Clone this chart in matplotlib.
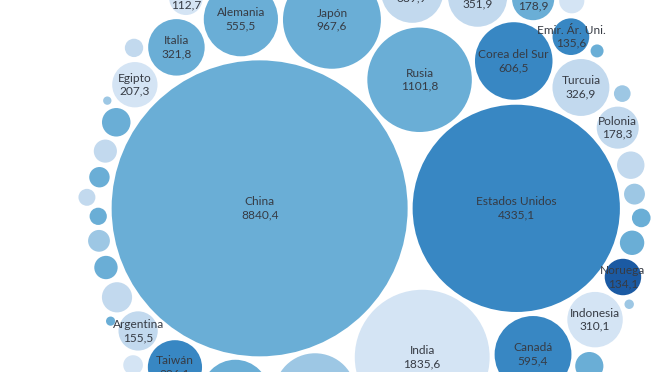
import numpy as np
import matplotlib
matplotlib.use("Agg")
import matplotlib.pyplot as plt
from matplotlib.patches import Circle

# ---------------- data (in data order; the pack follows this order) ----------------
paises = [
    "China", "Estados Unidos", "India", "Rusia", "Japón", "Brasil",
    "Corea del Sur", "Canadá", "Alemania", "Francia", "Arabia Saudí", "Irán",
    "México", "Turcuia", "Italia", "Indonesia", "Reino Unido", "Taiwán",
    "España", "Australia", "Vietnam", "Sudáfrica", "Tailandia", "Egipto",
    "Argentina", "Polonia", "Ucrania", "Malasia", "Pakistán", "Emir. Ár. Uni.",
    "Noruega", "Suecia", "Kazajistán", "Filipinas", "Países Bajos", "Irak",
    "Finlandia", "Bélgica", "Chile", "Colombia",
    "Kuwait", "Austria", "Israel", "Rep. Checa",
    "Suiza", "Singapur", "Rumanía", "Grecia", "Portugal", "Catar",
    "Hungría", "Nueva Zelanda", "Marruecos",
    "Dinamarca", "Bulgaria", "Nigeria", "Irlanda", "Ecuador",
    "Eslovaquia", "Rep. Dominicana",
    "Islandia", "Croacia", "Bahréin", "Sri Lanka", "Eslovenia", "Lituania",
    "Trinidad y Tobago", "Estonia", "Letonia", "Macedonia del Norte",
    "Luxemburgo", "Chipre", "Malta",
]
valores = [
    8840.4, 4335.1, 1835.6, 1101.8, 967.6, 677.2,
    606.5, 595.4, 555.5, 460.0, 389.9, 372.0,
    351.9, 326.9, 321.8, 310.1, 299.0, 296.1,
    250.0, 245.0, 240.0, 215.0, 212.0, 207.3,
    155.5, 178.3, 160.0, 178.9, 145.0, 135.6,
    134.1, 130.0, 125.0, 118.0, 112.7, 92.0,
    82.0, 80.0, 78.0, 76.0,
    72.0, 70.0, 66.0, 64.0,
    60.0, 55.0, 54.0, 51.0, 50.0, 48.0,
    44.0, 42.0, 39.0,
    35.0, 34.0, 32.0, 30.0, 29.0,
    28.0, 19.5,
    19.0, 18.0, 17.0, 16.0, 14.0, 12.0,
    9.0, 8.5, 7.0, 6.5,
    6.0, 5.0, 2.5,
]
tonos = [
    3, 4, 0, 3, 3, 2,
    4, 4, 3, 3, 1, 1,
    1, 1, 3, 0, 2, 4,
    2, 3, 1, 2, 1, 0,
    1, 1, 2, 3, 0, 4,
    5, 3, 2, 1, 0, 1,
    3, 3, 2, 1,
    2, 3, 3, 0,
    3, 3, 1, 2, 2, 2,
    2, 3, 0,
    3, 1, 0, 3, 1,
    2, 1,
    5, 2, 3, 0, 3, 2,
    2, 3, 2, 1,
    2, 2, 1,
]
paleta = ["#d4e4f4", "#c2d9ee", "#9dc7e4", "#6aaed6", "#3887c3", "#1b5aa3"]

# ---------------- layout settings ----------------
W, H = 672, 372
K = 1.574          # px per sqrt(value)
PAD = 5.0          # gap between circles (px)
CX, CY = 371, 203  # position of the enclosing circle centre in the view


def place(b, a, c):
    dx = b[0] - a[0]; dy = b[1] - a[1]; d2 = dx * dx + dy * dy
    if d2:
        a2 = (a[2] + c[2]) ** 2; b2 = (b[2] + c[2]) ** 2
        if a2 > b2:
            x = (d2 + b2 - a2) / (2 * d2)
            y = np.sqrt(max(0.0, b2 / d2 - x * x))
            c[0] = b[0] - x * dx - y * dy
            c[1] = b[1] - x * dy + y * dx
        else:
            x = (d2 + a2 - b2) / (2 * d2)
            y = np.sqrt(max(0.0, a2 / d2 - x * x))
            c[0] = a[0] + x * dx - y * dy
            c[1] = a[1] + x * dy + y * dx
    else:
        c[0] = a[0] + c[2]; c[1] = a[1]


def intersects(a, b):
    dr = a[2] + b[2] - 1e-6; dx = b[0] - a[0]; dy = b[1] - a[1]
    return dr > 0 and dr * dr > dx * dx + dy * dy


class Node:
    def __init__(self, c):
        self.c = c; self.next = None; self.prev = None


def score(node):
    a = node.c; b = node.next.c
    ab = a[2] + b[2]
    dx = (a[0] * b[2] + b[0] * a[2]) / ab
    dy = (a[1] * b[2] + b[1] * a[2]) / ab
    return dx * dx + dy * dy


def pack_siblings(circles):
    n = len(circles)
    a = circles[0]; a[0] = 0.0; a[1] = 0.0
    b = circles[1]; a[0] = -b[2]; b[0] = a[2]; b[1] = 0.0
    c = circles[2]; place(b, a, c)
    a = Node(a); b = Node(b); c = Node(c)
    a.next = c.prev = b
    b.next = a.prev = c
    c.next = b.prev = a
    i = 3
    while i < n:
        cc = circles[i]
        place(a.c, b.c, cc)
        c = Node(cc)
        j = b.next; k = a.prev; sj = b.c[2]; sk = a.c[2]
        restart = False
        while True:
            if sj <= sk:
                if intersects(j.c, c.c):
                    b = j; a.next = b; b.prev = a; restart = True; break
                sj += j.c[2]; j = j.next
            else:
                if intersects(k.c, c.c):
                    a = k; a.next = b; b.prev = a; restart = True; break
                sk += k.c[2]; k = k.prev
            if j is k.next:
                break
        if restart:
            continue
        c.prev = a; c.next = b; a.next = c; b.prev = c; b = c
        aa = score(a)
        c = c.next
        while c is not b:
            ca = score(c)
            if ca < aa:
                a = c; aa = ca
            c = c.next
        b = a.next
        i += 1
    chain = [b.c]; c = b.next
    while c is not b:
        chain.append(c.c); c = c.next
    return chain


def enclose(circles):
    p = np.array(circles, dtype=float)
    cx, cy = p[:, 0].mean(), p[:, 1].mean()
    for it in range(4000):
        dx = p[:, 0] - cx; dy = p[:, 1] - cy
        dist = np.hypot(dx, dy) + 1e-9
        far = dist + p[:, 2]
        j = int(np.argmax(far))
        fx = cx + dx[j] / dist[j] * far[j]
        fy = cy + dy[j] / dist[j] * far[j]
        step = 1.0 / (it + 2)
        cx += (fx - cx) * step; cy += (fy - cy) * step
    return cx, cy


circs = [[0.0, 0.0, K * np.sqrt(v) + PAD / 2] for v in valores]
chain = pack_siblings(circs)
ex, ey = enclose(chain)

fig = plt.figure(figsize=(W / 100, H / 100), dpi=100)
ax = fig.add_axes([0, 0, 1, 1])
ax.set_xlim(-CX, W - CX)
ax.set_ylim(H - CY, -CY)
ax.axis("off")

for i, c in enumerate(circs):
    x = c[0] - ex; y = c[1] - ey; r = c[2] - PAD / 2
    ax.add_patch(Circle((x, y), r, facecolor=paleta[tonos[i]], edgecolor="none"))
    if valores[i] >= 110:
        txt = f"{valores[i]:.1f}".replace(".", ",")
        ax.text(x, y - 6.5, paises[i], ha="center", va="center", fontsize=8.6,
                family="Lato", color="#363b44")
        ax.text(x, y + 6.5, txt, ha="center", va="center", fontsize=8.6,
                family="Lato", color="#363b44")

fig.savefig("out.png", dpi=100, facecolor="white")
